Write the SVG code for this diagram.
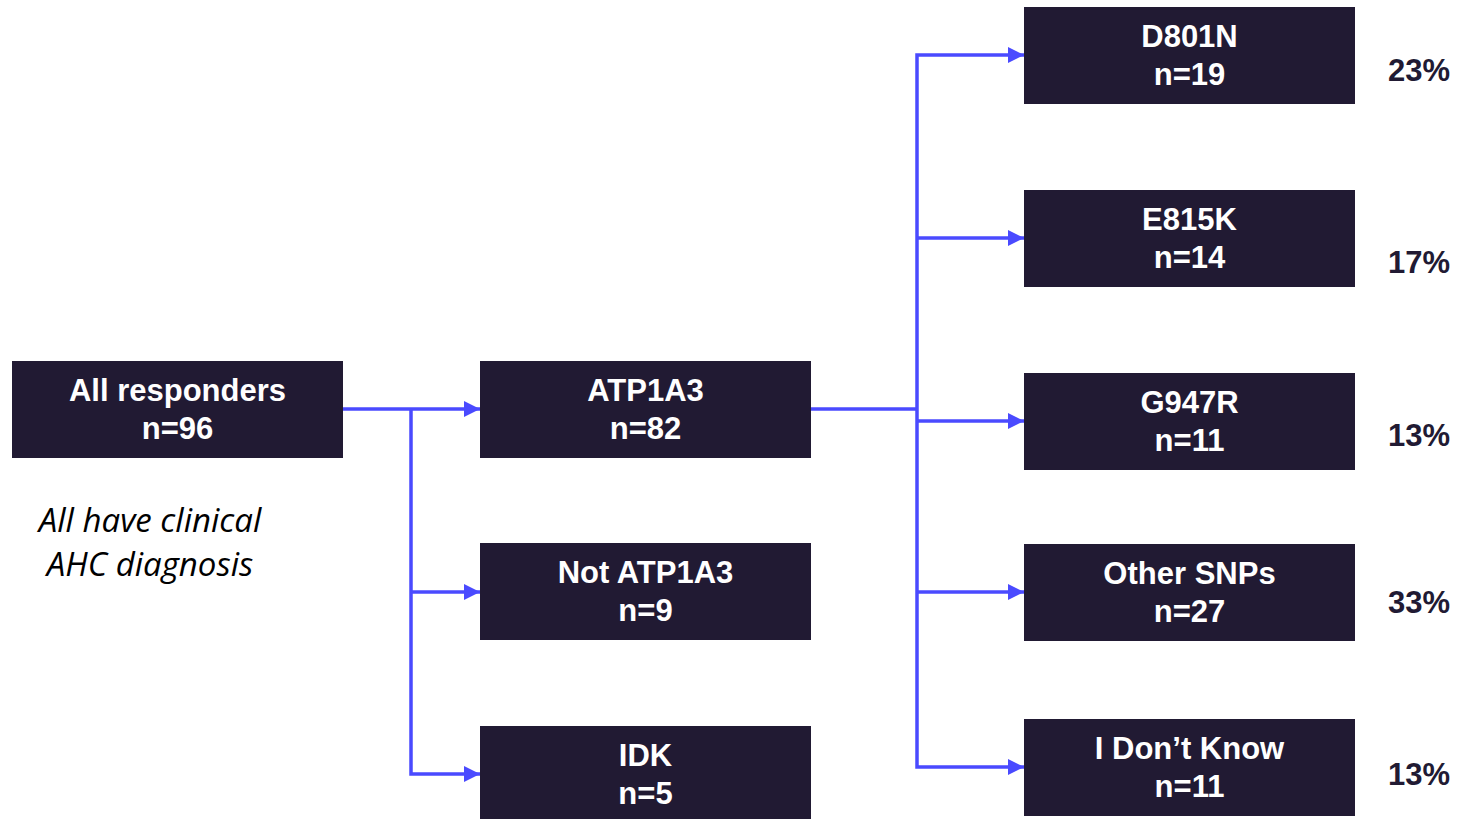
<svg xmlns="http://www.w3.org/2000/svg" width="1460" height="819" viewBox="0 0 1460 819">
<style>
.box{fill:#211a33}
.t{font-family:"Liberation Sans",Arial,sans-serif;font-weight:bold;font-size:31px;fill:#ffffff;text-anchor:middle}
.p{font-family:"Liberation Sans",Arial,sans-serif;font-weight:bold;font-size:31px;fill:#211a33;text-anchor:middle}
.note{font-family:"Open Sans","Liberation Sans",sans-serif;font-style:italic;font-size:33px;fill:#000000;text-anchor:middle}
.c{fill:none;stroke:#4a4aff;stroke-width:3.5}
</style>
<defs>
<marker id="ah" viewBox="0 0 10 10" refX="10" refY="5" markerWidth="16" markerHeight="16" markerUnits="userSpaceOnUse" orient="auto">
<path d="M0,0 L10,5 L0,10 Z" fill="#4a4aff"/>
</marker>
</defs>
<rect width="1460" height="819" fill="#ffffff"/>
<g id="connectors">
<path class="c" d="M343,409 H480" marker-end="url(#ah)"/>
<path class="c" d="M411,409 V774 H480" marker-end="url(#ah)"/>
<path class="c" d="M411,592 H480" marker-end="url(#ah)"/>
<path class="c" d="M811,409 H917"/>
<path class="c" d="M917,409 V55 H1024" marker-end="url(#ah)"/>
<path class="c" d="M917,409 V767 H1024" marker-end="url(#ah)"/>
<path class="c" d="M917,238 H1024" marker-end="url(#ah)"/>
<path class="c" d="M917,421 H1024" marker-end="url(#ah)"/>
<path class="c" d="M917,592 H1024" marker-end="url(#ah)"/>
</g>
<g id="all">
<rect class="box" x="12" y="361" width="331" height="97"/>
<text class="t" x="177.5" y="401">All responders</text>
<text class="t" x="177.5" y="439">n=96</text>
</g>
<g id="atp1a3">
<rect class="box" x="480" y="361" width="331" height="97"/>
<text class="t" x="645.5" y="401">ATP1A3</text>
<text class="t" x="645.5" y="439">n=82</text>
</g>
<g id="not-atp1a3">
<rect class="box" x="480" y="543" width="331" height="97"/>
<text class="t" x="645.5" y="583">Not ATP1A3</text>
<text class="t" x="645.5" y="621">n=9</text>
</g>
<g id="idk">
<rect class="box" x="480" y="726" width="331" height="97"/>
<text class="t" x="645.5" y="766">IDK</text>
<text class="t" x="645.5" y="804">n=5</text>
</g>
<g id="d801n">
<rect class="box" x="1024" y="7" width="331" height="97"/>
<text class="t" x="1189.5" y="47">D801N</text>
<text class="t" x="1189.5" y="85">n=19</text>
</g>
<g id="e815k">
<rect class="box" x="1024" y="190" width="331" height="97"/>
<text class="t" x="1189.5" y="230">E815K</text>
<text class="t" x="1189.5" y="268">n=14</text>
</g>
<g id="g947r">
<rect class="box" x="1024" y="373" width="331" height="97"/>
<text class="t" x="1189.5" y="413">G947R</text>
<text class="t" x="1189.5" y="451">n=11</text>
</g>
<g id="other">
<rect class="box" x="1024" y="544" width="331" height="97"/>
<text class="t" x="1189.5" y="584">Other SNPs</text>
<text class="t" x="1189.5" y="622">n=27</text>
</g>
<g id="dontknow">
<rect class="box" x="1024" y="719" width="331" height="97"/>
<text class="t" x="1189.5" y="759">I Don’t Know</text>
<text class="t" x="1189.5" y="797">n=11</text>
</g>
<g id="percent">
<text class="p" x="1419" y="81">23%</text>
<text class="p" x="1419" y="273">17%</text>
<text class="p" x="1419" y="446">13%</text>
<text class="p" x="1419" y="613">33%</text>
<text class="p" x="1419" y="785">13%</text>
</g>
<g id="note">
<text class="note" x="150" y="532">All have clinical</text>
<text class="note" x="150" y="576">AHC diagnosis</text>
</g>
</svg>
